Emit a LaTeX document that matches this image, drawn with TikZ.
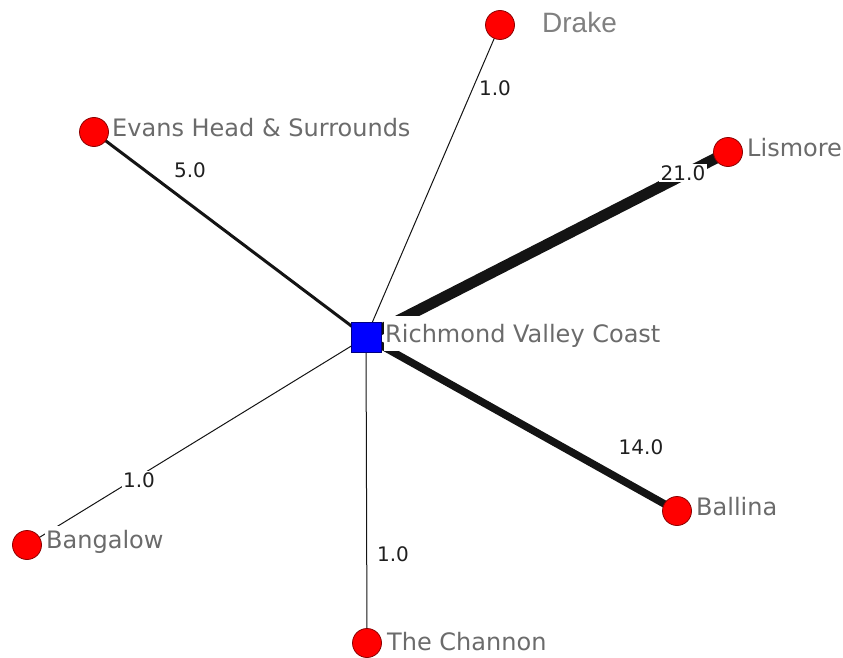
\documentclass[tikz,border=0pt]{standalone}
\usepackage{fontspec}
\setmainfont{DejaVu Sans}
\newfontfamily\drakefont{Liberation Sans}
\usetikzlibrary{backgrounds}
\begin{document}
\begin{tikzpicture}[x=1pt,y=-1pt,
  place/.style={circle,fill=red,draw=red!55!black,line width=0.8pt,minimum size=29pt,inner sep=0pt},
  hub/.style={rectangle,fill=blue,draw=blue!50!black,line width=0.8pt,minimum size=30pt,inner sep=0pt},
  nlab/.style={anchor=base west,fill=white,inner xsep=1pt,inner ysep=4pt,text=black!58,font=\fontsize{24}{28}\selectfont},
  elab/.style={fill=white,inner sep=1.5pt,text=black!88,font=\fontsize{20}{24}\selectfont},
  tie/.style={draw=black!92,line cap=butt}]
\useasboundingbox (0,0) rectangle (843,658);
% nodes
\node[hub] (rvc) at (366,337) {};
\node[place] (drake) at (500,25) {};
\node[place] (evans) at (94,132) {};
\node[place] (lis) at (728,152) {};
\node[place] (bal) at (677,511) {};
\node[place] (bang) at (27,545) {};
\node[place] (chan) at (367,643) {};
% edges
\begin{pgfonlayer}{background}
\draw[tie,line width=11pt] (rvc.center) -- (lis.center);
\draw[tie,line width=7.5pt] (rvc.center) -- (bal.center);
\draw[tie,line width=3pt] (rvc.center) -- (evans.center);
\draw[tie,line width=1pt] (rvc.center) -- (drake.center);
\draw[tie,line width=1pt] (rvc.center) -- (bang.center);
\draw[tie,line width=1pt] (rvc.center) -- (chan.center);
\end{pgfonlayer}
% edge labels
\node[elab] (w21) at (683,173) {21.0};
\node[elab] (w14) at (641,447) {14.0};
\node[elab] (w5) at (190,170) {5.0};
\node[elab] (w1d) at (495,88) {1.0};
\node[elab] (w1b) at (139,480) {1.0};
\node[elab] (w1c) at (393,554) {1.0};
% node labels
\node[nlab,text height=22pt] (trvc) at (384,342) {Richmond Valley Coast};
\node[nlab] (tevans) at (111,137) {Evans Head \& Surrounds};
\node[nlab] (tlis) at (746,157) {Lismore};
\node[nlab] (tbal) at (695,515) {Ballina};
\node[nlab] (tbang) at (45,548) {Bangalow};
\node[nlab] (tchan) at (386,650) {The Channon};
\node[anchor=base west,inner sep=1pt,text=black!50,font=\drakefont\fontsize{28}{32}\selectfont] (tdrake) at (541,33) {Drake};
\end{tikzpicture}
\end{document}
